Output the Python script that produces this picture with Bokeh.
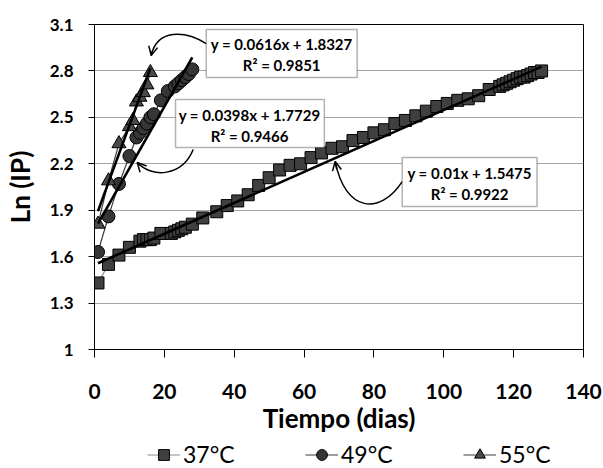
from bokeh.plotting import figure
from bokeh.layouts import column
from bokeh.models import (FixedTicker, NumeralTickFormatter, Legend, LegendItem,
                          BoxAnnotation, Label, Arrow, OpenHead, Range1d)
from bokeh.embed import file_html
from bokeh.resources import INLINE

# ---------------- data ----------------
series_names = ["37°C", "49°C", "55°C"]

x37 = [1, 4, 7, 10, 13, 14, 15, 16, 17, 19, 22, 23, 24, 25, 26, 28, 31, 35, 38, 41,
       44, 47, 50, 53, 56, 59, 62, 65, 68, 71, 74, 77, 80, 83, 86, 89, 92, 95, 98, 101,
       104, 107, 110, 113, 116, 117, 118, 119, 120, 121, 122, 123, 124, 125, 126, 127, 128]
y37 = [1.43, 1.55, 1.61, 1.66, 1.70, 1.71, 1.71, 1.71, 1.72, 1.75, 1.75, 1.76, 1.77, 1.78,
       1.79, 1.81, 1.85, 1.89, 1.93, 1.96, 2.00, 2.06, 2.11, 2.16, 2.19, 2.20, 2.24, 2.27,
       2.30, 2.31, 2.35, 2.37, 2.40, 2.42, 2.46, 2.48, 2.51, 2.54, 2.57, 2.59, 2.61, 2.62,
       2.64, 2.68, 2.70, 2.71, 2.72, 2.73, 2.74, 2.75, 2.76, 2.76, 2.77, 2.78, 2.79, 2.79, 2.80]

x49 = [1, 4, 7, 10, 12, 13, 14, 15, 16, 17, 19, 21, 23, 24, 25, 26, 27, 28]
y49 = [1.63, 1.86, 2.07, 2.25, 2.37, 2.40, 2.43, 2.46, 2.50, 2.52, 2.61, 2.67, 2.70, 2.72,
       2.74, 2.76, 2.78, 2.81]

x55 = [1, 4, 7, 10, 11, 12, 13, 14, 15, 16]
y55 = [1.81, 2.09, 2.33, 2.44, 2.48, 2.60, 2.63, 2.66, 2.71, 2.79]

fit_slope = [0.01, 0.0398, 0.0616]
fit_intercept = [1.5475, 1.7729, 1.8327]
fit_r2 = [0.9922, 0.9466, 0.9851]

x_ticks = [0, 20, 40, 60, 80, 100, 120, 140]
y_ticks = [1, 1.3, 1.6, 1.9, 2.2, 2.5, 2.8, 3.1]

x_title = "Tiempo (dias)"
y_title = "Ln (IP)"

FONT = "Lato"

# ---------------- main figure ----------------
p = figure(width=603, height=441, x_range=Range1d(0, 140), y_range=Range1d(1, 3.1),
           output_backend="svg", toolbar_location=None,
           min_border_left=94, min_border_right=20, min_border_top=24, min_border_bottom=92)

p.background_fill_color = "white"
p.border_fill_color = "white"
p.outline_line_color = "black"
p.outline_line_width = 1

p.xaxis.ticker = FixedTicker(ticks=x_ticks)
p.yaxis.ticker = FixedTicker(ticks=y_ticks)
p.yaxis.formatter = NumeralTickFormatter(format="0.[0]")
p.xgrid.visible = False
p.ygrid.grid_line_color = "#a6a6a6"
p.ygrid.grid_line_width = 1

for ax in (p.xaxis, p.yaxis):
    ax.axis_line_color = "black"
    ax.major_tick_line_color = "black"
    ax.minor_tick_line_color = None
    ax.major_tick_in = 0
    ax.major_label_text_font = FONT
    ax.major_label_text_font_style = "bold"
    ax.major_label_text_color = "black"
    ax.axis_label_text_font = FONT
    ax.axis_label_text_font_style = "bold"
    ax.axis_label_text_font_size = "26px"
    ax.axis_label_text_color = "black"

p.xaxis.major_tick_out = 8
p.xaxis.major_label_text_font_size = "21px"
p.xaxis.major_label_standoff = 26
p.xaxis.axis_label = x_title
p.xaxis.axis_label_standoff = 0

p.yaxis.major_tick_out = 6
p.yaxis.major_label_text_font_size = "17px"
p.yaxis.major_label_standoff = 15
p.yaxis.axis_label = y_title
p.yaxis.axis_label_standoff = 11

# ---------------- series ----------------
xs_all = [x37, x49, x55]
ys_all = [y37, y49, y55]
markers = ["square", "circle", "triangle"]
sizes = [12, 13, 14]
fills = ["#404040", "#363636", "#4a4a4a"]
conn_colors = ["#8c8c8c", "#3a3a3a", "#3a3a3a"]

for xs, ys, mk, sz, fc, cc in zip(xs_all, ys_all, markers, sizes, fills, conn_colors):
    p.line(xs, ys, line_color=cc, line_width=1.2)
    p.scatter(xs, ys, marker=mk, size=sz, fill_color=fc, line_color="black", line_width=1)

# trend lines
for xs, m, b in zip(xs_all, fit_slope, fit_intercept):
    xl = [min(xs), max(xs)]
    yl = [m * v + b for v in xl]
    p.line(xl, yl, line_color="black", line_width=2.6)

# ---------------- equation boxes ----------------
# (box left, right, top, bottom, text x, line1 y, line2 y) in data units; order 37, 49, 55
box_pos = [
    (88.1, 126.7, 2.240, 1.924, 107.4, 2.143, 2.008),
    (23.2, 65.8, 2.615, 2.305, 44.4, 2.518, 2.382),
    (32.0, 75.2, 3.067, 2.757, 53.6, 2.977, 2.841),
]
# curved arrows: start, control0, control1, end (data units)
arrow_pos = [
    ((88.09, 2.085), (81.79, 1.866), (71.77, 1.885), (68.91, 2.215)),
    ((28.26, 2.292), (25.11, 2.118), (16.52, 2.105), (12.22, 2.208)),
    ((31.98, 2.977), (25.97, 3.061), (17.95, 3.074), (16.23, 2.900)),
]

for (l, r, t, bt, tx, ty1, ty2), m, b, r2 in zip(box_pos, fit_slope, fit_intercept, fit_r2):
    p.add_layout(BoxAnnotation(left=l, right=r, top=t, bottom=bt, fill_color="white",
                               fill_alpha=1, line_color="black", line_width=1.5))
    for txt, ty in ((f"y = {m}x + {b}", ty1), (f"R² = {r2}", ty2)):
        p.add_layout(Label(x=tx, y=ty, text=txt, text_align="center", text_baseline="middle",
                           text_font=FONT, text_font_style="bold", text_font_size="15px",
                           text_color="black"))

for (s, c0, c1, e) in arrow_pos:
    p.bezier(x0=[s[0]], y0=[s[1]], x1=[e[0]], y1=[e[1]], cx0=[c0[0]], cy0=[c0[1]],
             cx1=[c1[0]], cy1=[c1[1]], line_color="black", line_width=1.5)
    ax0 = e[0] + 0.15 * (c1[0] - e[0])
    ay0 = e[1] + 0.15 * (c1[1] - e[1])
    p.add_layout(Arrow(end=OpenHead(size=9, line_width=1.5, line_color="black"),
                       x_start=ax0, y_start=ay0, x_end=e[0], y_end=e[1],
                       line_color="black", line_width=1.5))

# ---------------- legend strip (separate figure below) ----------------
p2 = figure(width=603, height=27, x_range=Range1d(0, 1), y_range=Range1d(0, 1),
            output_backend="svg", toolbar_location=None, min_border=0,
            x_axis_type=None, y_axis_type=None)
p2.outline_line_color = None
p2.background_fill_color = "white"
p2.border_fill_color = "white"
p2.grid.visible = False

# legend proxies: one point each, outside the strip's visible range
proxy_x = [-5]
proxy_y = [-5]
legend_items = []
for name, mk, sz, fc, cc in zip(series_names, markers, sizes, fills, conn_colors):
    ln = p2.line(proxy_x, proxy_y, line_color=cc, line_width=1.2)
    sc = p2.scatter(proxy_x, proxy_y, marker=mk, size=sz, fill_color=fc,
                    line_color="black", line_width=1)
    legend_items.append(LegendItem(label=name, renderers=[ln, sc]))

legend = Legend(items=legend_items, location=(53, 0), orientation="horizontal",
                spacing=70, padding=0, margin=0, glyph_width=33, glyph_height=27,
                label_standoff=3, label_width=52, label_text_font=FONT,
                label_text_font_size="23px", label_text_color="black",
                border_line_alpha=0, background_fill_alpha=0)
p2.add_layout(legend)

layout = column(p, p2, spacing=0)
open("out.html", "w").write(file_html(layout, INLINE))
